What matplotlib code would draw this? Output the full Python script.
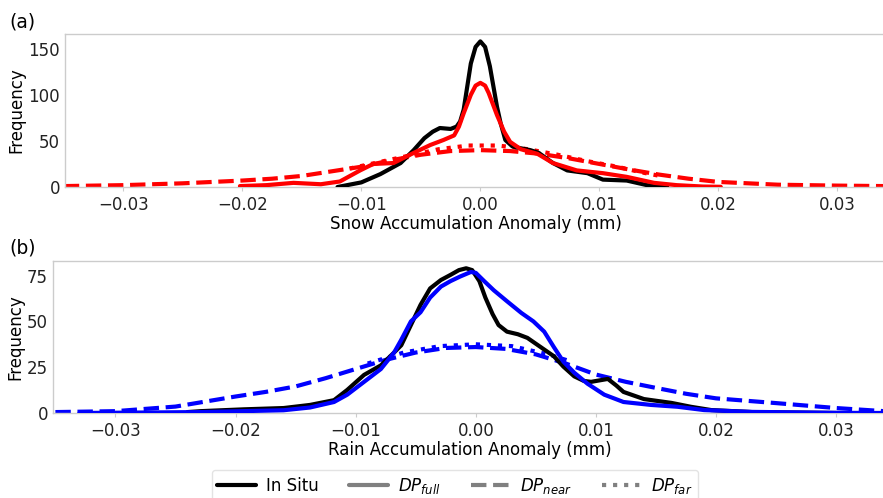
import matplotlib
matplotlib.use("Agg")
import matplotlib.pyplot as plt
from matplotlib.lines import Line2D

# ---- Snow accumulation anomaly densities (panel a) ----
snow_insitu_x = [-0.0120, -0.0100, -0.0084, -0.0067, -0.0056, -0.0047, -0.0040, -0.0034,
                 -0.0025, -0.0020, -0.0017, -0.0014, -0.0011, -0.0008, -0.0004, 0.0000,
                 0.0004, 0.0008, 0.0011, 0.0014, 0.0017, 0.0021, 0.0027, 0.0034, 0.0042,
                 0.0049, 0.0061, 0.0073, 0.0090, 0.0103, 0.0123, 0.0140, 0.0157]
snow_insitu_y = [0, 5, 14, 26, 40, 53, 60, 64, 63, 65.5, 71, 84, 109, 134, 152, 158,
                 152, 131, 109, 87, 69.5, 51, 44, 42, 40, 37, 26, 18, 15, 8, 7, 2, 0]

snow_full_x = [-0.0202, -0.0180, -0.0157, -0.0134, -0.0118, -0.0101, -0.0090, -0.0073,
               -0.0056, -0.0042, -0.0031, -0.0022, -0.0018, -0.0014, -0.0008, -0.0004,
               0.0000, 0.0004, 0.0007, 0.0014, 0.0020, 0.0025, 0.0034, 0.0048, 0.0061,
               0.0081, 0.0103, 0.0123, 0.0146, 0.0165, 0.0187, 0.0202]
snow_full_y = [1, 2, 4.5, 3, 6, 18, 25, 26, 37, 45.6, 51, 56, 65.5, 80, 100, 110, 113,
               110, 102, 78, 60, 49, 41, 36, 26, 18, 15, 11, 4.5, 2, 0.5, 0.2]

snow_near_x = [-0.035, -0.030, -0.025, -0.020, -0.0175, -0.015, -0.0125, -0.010, -0.0075,
               -0.005, -0.0025, 0.000, 0.0025, 0.005, 0.0075, 0.010, 0.0125, 0.015,
               0.0175, 0.020, 0.025, 0.030, 0.034]
snow_near_y = [1, 2, 4, 7, 9, 12, 17, 22, 29, 35, 39, 40, 39, 36, 31, 25, 19, 13.5, 9,
               5.5, 2.5, 1.5, 1]

snow_far_x = [-0.0110, -0.0085, -0.0060, -0.0035, -0.0010, 0.0015, 0.0040, 0.0065,
              0.0090, 0.0115, 0.0135, 0.0151]
snow_far_y = [20, 27, 34, 41, 45, 45, 41, 35, 28, 22, 16, 12]

# ---- Rain accumulation anomaly densities (panel b) ----
rain_insitu_x = [-0.0240, -0.0229, -0.0193, -0.0160, -0.0138, -0.0118, -0.0107, -0.0093,
                 -0.0079, -0.0068, -0.0062, -0.0054, -0.0046, -0.0038, -0.0029, -0.0021,
                 -0.0014, -0.0008, -0.0003, 0.0003, 0.0008, 0.0014, 0.0019, 0.0026,
                 0.0035, 0.0043, 0.0054, 0.0065, 0.0073, 0.0082, 0.0090, 0.0096, 0.0103,
                 0.0110, 0.0117, 0.0123, 0.0140, 0.0163, 0.0179, 0.0196, 0.0230, 0.0300]
rain_insitu_y = [0.5, 1, 2, 2.7, 4.4, 7, 12.6, 20.8, 26, 33, 37, 48, 59, 68, 72.6, 75.4,
                 78, 79, 78, 72, 63, 54, 48, 44.4, 43, 41, 36, 31, 25.3, 20, 17.5, 17,
                 17.8, 18.6, 15, 11.5, 7.6, 5.5, 3.4, 1.6, 0.5, 0]

rain_full_x = [-0.0330, -0.0229, -0.0160, -0.0138, -0.0118, -0.0107, -0.0093, -0.0079,
               -0.0068, -0.0062, -0.0054, -0.0046, -0.0038, -0.0029, -0.0021, -0.0013,
               -0.0004, 0.0000, 0.0007, 0.0015, 0.0026, 0.0038, 0.0048, 0.0057, 0.0065,
               0.0073, 0.0082, 0.0093, 0.0107, 0.0123, 0.0146, 0.0168, 0.0190, 0.0230,
               0.0300, 0.0340]
rain_full_y = [0, 0.5, 1.5, 3, 6, 10, 17, 24, 33, 40, 50, 55, 63, 69, 72, 74.5, 77, 76.5,
               72, 67, 61, 54.6, 50, 44.4, 36, 28, 22, 16, 10, 6, 4.4, 3.4, 1.6, 0.6,
               0.1, 0]

rain_near_x = [-0.035, -0.030, -0.025, -0.020, -0.0175, -0.015, -0.0125, -0.010, -0.0075,
               -0.005, -0.0025, 0.000, 0.0025, 0.005, 0.0075, 0.010, 0.0125, 0.015,
               0.0175, 0.020, 0.025, 0.030, 0.034]
rain_near_y = [0.5, 1, 3.5, 9, 11.5, 14.5, 19, 24, 29, 33, 35.5, 36, 35, 32, 27, 21, 17,
               13.7, 10.5, 8, 5.4, 2.7, 1]

rain_far_x = [-0.0090, -0.0060, -0.0030, 0.0000, 0.0030, 0.0060, 0.0080]
rain_far_y = [27, 33, 36.5, 37.5, 36.5, 32, 28]

xticks = [-0.03, -0.02, -0.01, 0.00, 0.01, 0.02, 0.03]
xtick_labels = ["\u22120.03", "\u22120.02", "\u22120.01", "0.00", "0.01", "0.02", "0.03"]
snow_yticks = [0, 50, 100, 150]
rain_yticks = [0, 25, 50, 75]

plt.rcParams["font.family"] = ["DejaVu Sans"]
plt.rcParams["axes.unicode_minus"] = True
plt.rcParams["lines.solid_joinstyle"] = "round"
plt.rcParams["lines.solid_capstyle"] = "round"

fig = plt.figure(figsize=(8.83, 4.98), dpi=100)
ax_a = fig.add_axes([0.0736, 0.6245, 0.93, 0.3072])
ax_b = fig.add_axes([0.0600, 0.1707, 0.944, 0.3053])

LW = 3.0
spine_col = "#cccccc"


def style(ax, yticks, xlabel, xlim, ylim):
    ax.set_xlim(*xlim)
    ax.set_ylim(*ylim)
    ax.set_xticks(xticks)
    ax.set_xticklabels(xtick_labels)
    ax.set_yticks(yticks)
    ax.tick_params(axis="both", labelsize=12, color=spine_col, length=3, width=0.8,
                   labelcolor="#222222")
    ax.tick_params(axis="y", length=0)
    for s in ax.spines.values():
        s.set_color(spine_col)
        s.set_linewidth(1.0)
    ax.spines["right"].set_visible(False)
    ax.set_xlabel(xlabel, fontsize=12, labelpad=1)
    ax.set_ylabel("Frequency", fontsize=12, labelpad=2)


# panel (a): snow
ax_a.plot(snow_near_x, snow_near_y, color="red", lw=LW, ls="--", zorder=2)
ax_a.plot(snow_far_x, snow_far_y, color="red", lw=LW, ls=":", zorder=2)
ax_a.plot(snow_insitu_x, snow_insitu_y, color="black", lw=LW, zorder=3)
ax_a.plot(snow_full_x, snow_full_y, color="red", lw=LW, zorder=4)
style(ax_a, snow_yticks, "Snow Accumulation Anomaly (mm)", (-0.0349, 0.0341), (0, 166))

# panel (b): rain
ax_b.plot(rain_near_x, rain_near_y, color="blue", lw=LW, ls="--", zorder=2)
ax_b.plot(rain_far_x, rain_far_y, color="blue", lw=LW, ls=":", zorder=2)
ax_b.plot(rain_insitu_x, rain_insitu_y, color="black", lw=LW, zorder=3)
ax_b.plot(rain_full_x, rain_full_y, color="blue", lw=LW, zorder=4)
style(ax_b, rain_yticks, "Rain Accumulation Anomaly (mm)", (-0.0352, 0.0342), (0, 83))

fig.text(0.011, 0.955, "(a)", fontsize=13.5, va="center", ha="left")
fig.text(0.011, 0.502, "(b)", fontsize=13.5, va="center", ha="left")

grey = "#808080"
handles = [
    Line2D([], [], color="black", lw=LW),
    Line2D([], [], color=grey, lw=LW),
    Line2D([], [], color=grey, lw=LW, ls="--"),
    Line2D([], [], color=grey, lw=LW, ls=":"),
]
labels = ["In Situ", r"$DP_{full}$", r"$DP_{near}$", r"$DP_{far}$"]
leg = fig.legend(handles, labels, loc="upper center", bbox_to_anchor=(0.515, 0.056),
                 ncol=4, fontsize=12, frameon=True, handlelength=2.3,
                 columnspacing=1.85, handletextpad=0.6, borderpad=0.35,
                 borderaxespad=0.0, fancybox=True)
leg.get_frame().set_edgecolor("#dddddd")

fig.savefig("out.png", dpi=100)
